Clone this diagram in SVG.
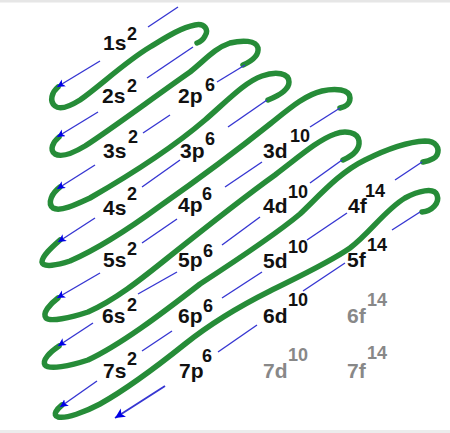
<svg xmlns="http://www.w3.org/2000/svg" width="450" height="433" viewBox="0 0 450 433">
<defs>
<style>
.m{font-family:"Liberation Sans",Arial,sans-serif;font-weight:bold;font-size:21px;fill:#111}
.s{font-family:"Liberation Sans",Arial,sans-serif;font-weight:bold;font-size:18px;fill:#111}
.g .m,.g .s{fill:#888}
.b{stroke:#3636d2;stroke-width:1.4;fill:none}
.a{marker-end:url(#ah)}
.z{stroke:#268c38;stroke-width:5.5;fill:none;stroke-linecap:round;stroke-linejoin:round}
</style>
<marker id="ah" markerUnits="userSpaceOnUse" markerWidth="12" markerHeight="12" refX="8" refY="4" orient="auto">
<path d="M0,0 L8,4 L0,8 L2,4 z" fill="#0000e6"/>
</marker>
<marker id="ah2" markerUnits="userSpaceOnUse" markerWidth="14" markerHeight="14" refX="10" refY="5" orient="auto">
<path d="M0,0 L10,5 L0,10 L2.5,5 z" fill="#0000e6"/>
</marker>
</defs>
<rect x="0" y="0" width="450" height="433" fill="#ffffff"/>
<rect x="0" y="0" width="450" height="2.5" fill="#e6e6e6"/>
<rect x="0" y="430" width="450" height="3" fill="#ececec"/>

<g id="green-path">
<path class="z" d="M58,87 C52,92 49,101 55,106 C61,111 72,105 80,100 C100,86 125,62 150,47 C165,38 180,28 195,25 C205,23 209,30 205,36 C203,40 200,42 197,43"/>
<path class="z" d="M59,137 C53,142 49,150 55,154 C62,158 75,152 85,146 C110,130 150,100 190,72 C205,60 215,48 230,43 C242,40 256,40 258,48 C259,55 252,61 243,65"/>
<path class="z" d="M60,187 C52,193 47,203 53,208 C60,212 75,205 90,198 C130,175 170,150 205,120 C228,100 245,82 262,76 C276,71 289,73 289,82 C289,90 278,96 268,100"/>
<path class="z" d="M60,240 C52,247 42,256 42,262 C43,268 58,265 70,261 C100,248 130,228 160,206 C200,178 240,148 270,124 C290,108 305,95 322,91 C335,88 350,89 350,98 C350,104 345,107 340,108"/>
<path class="z" d="M58,298 C50,304 42,313 46,318 C50,322 70,318 88,312 C115,300 140,280 165,260 C200,232 240,200 275,175 C300,156 318,140 335,134 C345,130 358,132 359,141 C360,150 352,156 343,160"/>
<path class="z" d="M59,346 C50,352 42,360 45,365 C49,370 70,366 88,360 C120,345 160,315 200,284 C240,258 275,235 300,214 C320,195 340,172 365,160 C385,150 405,142 425,141 C436,141 440,148 437,155 C435,159 428,161 423,162"/>
<path class="z" d="M62,405 C57,409 52,415 58,417 C66,419 85,412 100,404 C125,390 155,368 185,344 C210,324 240,306 270,291 C300,276 330,262 350,248 C370,233 385,210 405,198 C418,191 434,187 437,195 C440,203 432,211 422,212"/>
</g>

<g id="connectors">
<line class="b" x1="178" y1="7" x2="148" y2="27"/>
<line class="b a" x1="100" y1="61" x2="57" y2="87"/>
<line class="b" x1="193" y1="47" x2="147" y2="78"/>
<line class="b a" x1="98" y1="112" x2="57" y2="137"/>
<line class="b" x1="245" y1="65" x2="217" y2="82"/>
<line class="b" x1="170" y1="115" x2="143" y2="133"/>
<line class="b a" x1="95" y1="165" x2="57" y2="189"/>
<line class="b" x1="267" y1="100" x2="228" y2="127"/>
<line class="b" x1="180" y1="160" x2="142" y2="187"/>
<line class="b a" x1="95" y1="218" x2="58" y2="242"/>
<line class="b" x1="340" y1="108" x2="310" y2="127"/>
<line class="b" x1="262" y1="162" x2="225" y2="187"/>
<line class="b" x1="177" y1="219" x2="142" y2="243"/>
<line class="b a" x1="100" y1="273" x2="57" y2="298"/>
<line class="b" x1="342" y1="160" x2="310" y2="183"/>
<line class="b" x1="260" y1="217" x2="222" y2="245"/>
<line class="b" x1="177" y1="272" x2="138" y2="294"/>
<line class="b a" x1="93" y1="323" x2="58" y2="346"/>
<line class="b" x1="422" y1="162" x2="395" y2="180"/>
<line class="b" x1="347" y1="213" x2="307" y2="240"/>
<line class="b" x1="262" y1="272" x2="222" y2="298"/>
<line class="b" x1="172" y1="331" x2="142" y2="351"/>
<line class="b a" x1="97" y1="381" x2="60" y2="407"/>
<line class="b" x1="420" y1="212" x2="392" y2="230"/>
<line class="b" x1="345" y1="263" x2="303" y2="291"/>
<line class="b" x1="257" y1="325" x2="218" y2="352"/>
<line class="b" x1="165" y1="386" x2="115" y2="418" style="stroke-width:1.8;marker-end:url(#ah2)"/>
</g>

<g id="n1s"><text class="m" x="103" y="50">1s</text><text class="s" x="127" y="40">2</text></g>
<g id="n2s"><text class="m" x="102" y="103">2s</text><text class="s" x="127" y="92">2</text></g>
<g id="n2p"><text class="m" x="178" y="103">2p</text><text class="s" x="205" y="91">6</text></g>
<g id="n3s"><text class="m" x="103" y="158">3s</text><text class="s" x="128" y="143">2</text></g>
<g id="n3p"><text class="m" x="180" y="158">3p</text><text class="s" x="205" y="145">6</text></g>
<g id="n3d"><text class="m" x="263" y="158">3d</text><text class="s" x="290" y="142">10</text></g>
<g id="n4s"><text class="m" x="103" y="215">4s</text><text class="s" x="127" y="200">2</text></g>
<g id="n4p"><text class="m" x="178" y="212">4p</text><text class="s" x="202" y="200">6</text></g>
<g id="n4d"><text class="m" x="263" y="213">4d</text><text class="s" x="288" y="198">10</text></g>
<g id="n4f"><text class="m" x="348" y="213">4f</text><text class="s" x="365" y="197">14</text></g>
<g id="n5s"><text class="m" x="103" y="267">5s</text><text class="s" x="127" y="255">2</text></g>
<g id="n5p"><text class="m" x="178" y="267">5p</text><text class="s" x="203" y="257">6</text></g>
<g id="n5d"><text class="m" x="263" y="268">5d</text><text class="s" x="288" y="253">10</text></g>
<g id="n5f"><text class="m" x="347" y="267">5f</text><text class="s" x="367" y="251">14</text></g>
<g id="n6s"><text class="m" x="102" y="323">6s</text><text class="s" x="127" y="311">2</text></g>
<g id="n6p"><text class="m" x="178" y="323">6p</text><text class="s" x="203" y="312">6</text></g>
<g id="n6d"><text class="m" x="263" y="323">6d</text><text class="s" x="288" y="306">10</text></g>
<g id="n6f" class="g"><text class="m" x="347" y="323">6f</text><text class="s" x="367" y="306">14</text></g>
<g id="n7s"><text class="m" x="103" y="378">7s</text><text class="s" x="127" y="365">2</text></g>
<g id="n7p"><text class="m" x="179" y="378">7p</text><text class="s" x="202" y="362">6</text></g>
<g id="n7d" class="g"><text class="m" x="263" y="378">7d</text><text class="s" x="288" y="361">10</text></g>
<g id="n7f" class="g"><text class="m" x="347" y="378">7f</text><text class="s" x="367" y="359">14</text></g>
</svg>
